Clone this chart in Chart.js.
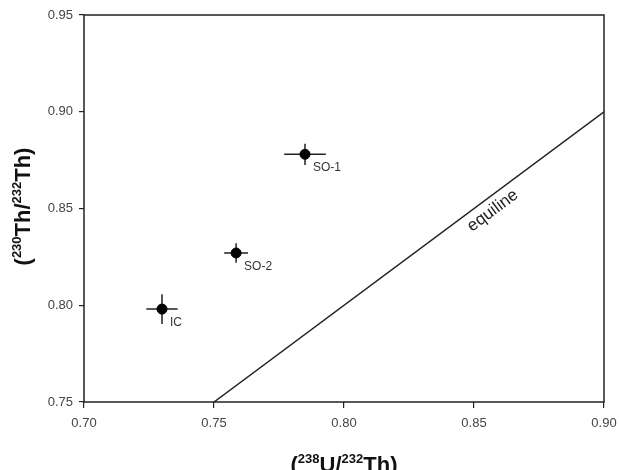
<!DOCTYPE html>
<html>
<head>
<meta charset="utf-8">
<script src="https://cdn.jsdelivr.net/npm/chart.js@4.4.1/dist/chart.umd.min.js"></script>
<style>
html,body{margin:0;padding:0;background:#fff}
#wrap{width:619px;height:470px;position:relative}
</style>
</head>
<body>
<div id="wrap"><canvas id="c" width="619" height="470"></canvas></div>
<script>
// échantillons
const samples = ["IC","SO-2","SO-1"]
const ratioU = [0.730,0.7585,0.785]      // (238U/232Th)
const ratioTh = [0.798,0.827,0.878]      // (230Th/232Th)
const errU = [0.006,0.0046,0.008]
const errTh = [0.0077,0.005,0.0055]

// equiline
const equiX = [0.75,0.90]
const equiY = [0.75,0.90]

const xTicks = [0.70,0.75,0.80,0.85,0.90]
const yTicks = [0.75,0.80,0.85,0.90,0.95]

const pts = samples.map((s,i)=>({x:ratioU[i],y:ratioTh[i]}))
const eq = equiX.map((x,i)=>({x:x,y:equiY[i]}))

const FONT = "'Liberation Sans', Arial, sans-serif"

const extras = {
id:"extras",
beforeDatasetsDraw(chart){
const ctx = chart.ctx
const xs = chart.scales.x, ys = chart.scales.y
ctx.save()
ctx.strokeStyle="#222"
ctx.lineWidth=1.5
// barres d'erreur
pts.forEach((p,i)=>{
let px = xs.getPixelForValue(p.x), py = ys.getPixelForValue(p.y)
ctx.beginPath()
ctx.moveTo(xs.getPixelForValue(p.x-errU[i]),py)
ctx.lineTo(xs.getPixelForValue(p.x+errU[i]),py)
ctx.moveTo(px,ys.getPixelForValue(p.y-errTh[i]))
ctx.lineTo(px,ys.getPixelForValue(p.y+errTh[i]))
ctx.stroke()
})
ctx.restore()
},
afterDraw(chart){
const ctx = chart.ctx
const a = chart.chartArea
const xs = chart.scales.x, ys = chart.scales.y
ctx.save()
// cadre
ctx.strokeStyle="#222"
ctx.lineWidth=1.5
ctx.strokeRect(a.left,a.top,a.right-a.left,a.bottom-a.top)
// étiquettes
ctx.fillStyle="#333"
ctx.font="12px "+FONT
ctx.textBaseline="alphabetic"
pts.forEach((p,i)=>{
let px = xs.getPixelForValue(p.x), py = ys.getPixelForValue(p.y)
ctx.fillText(samples[i],px+8,py+17)
})
// equiline
let x1 = xs.getPixelForValue(equiX[0]), y1 = ys.getPixelForValue(equiY[0])
let x2 = xs.getPixelForValue(equiX[1]), y2 = ys.getPixelForValue(equiY[1])
let ang = Math.atan2(y2-y1,x2-x1)
let t = 0.695
ctx.translate(x1+(x2-x1)*t,y1+(y2-y1)*t)
ctx.rotate(ang)
ctx.font="17px "+FONT
ctx.fillStyle="#222"
ctx.textAlign="center"
ctx.textBaseline="middle"
ctx.fillText("equiline",0,13)
ctx.restore()

// titres des axes avec exposants
function title(parts,cx,cy,rot){
ctx.save()
ctx.translate(cx,cy)
ctx.rotate(rot)
let w=0
parts.forEach(p=>{
ctx.font="bold "+(p[1]?13:22)+"px "+FONT
w+=ctx.measureText(p[0]).width
})
let x=-w/2
ctx.fillStyle="#111"
ctx.textBaseline="alphabetic"
parts.forEach(p=>{
ctx.font="bold "+(p[1]?13:22)+"px "+FONT
ctx.fillText(p[0],x,p[1]?-9:0)
x+=ctx.measureText(p[0]).width
})
ctx.restore()
}
title([["(",0],["238",1],["U/",0],["232",1],["Th)",0]],(a.left+a.right)/2,472,0)
title([["(",0],["230",1],["Th/",0],["232",1],["Th)",0]],30,(a.top+a.bottom)/2-2,-Math.PI/2)
}
}

new Chart(document.getElementById("c"),{
type:"scatter",
data:{
datasets:[
{data:eq,showLine:true,borderColor:"#222",borderWidth:1.5,pointRadius:0,fill:false},
{data:pts,backgroundColor:"#000",borderColor:"#000",pointRadius:5,pointHoverRadius:5}
]
},
options:{
responsive:false,
animation:false,
events:[],
layout:{padding:{top:15,right:15,left:0,bottom:0}},
plugins:{legend:{display:false},tooltip:{enabled:false}},
scales:{
x:{
type:"linear",min:0.70,max:0.90,
afterBuildTicks(s){s.ticks=xTicks.map(v=>({value:v}))},
afterFit(s){s.height=68;s.paddingLeft=0;s.paddingRight=0},
border:{display:false},
grid:{drawOnChartArea:false,tickLength:6,color:"#222",lineWidth:1.2},
ticks:{padding:8,color:"#444",font:{family:FONT,size:13},callback:v=>v.toFixed(2)}
},
y:{
type:"linear",min:0.75,max:0.95,
afterBuildTicks(s){s.ticks=yTicks.map(v=>({value:v}))},
afterFit(s){s.width=84;s.paddingTop=0;s.paddingBottom=0},
border:{display:false},
grid:{drawOnChartArea:false,tickLength:5,color:"#222",lineWidth:1.2},
ticks:{padding:6,color:"#444",font:{family:FONT,size:13},callback:v=>v.toFixed(2)}
}
}
},
plugins:[extras]
})
</script>
</body>
</html>
